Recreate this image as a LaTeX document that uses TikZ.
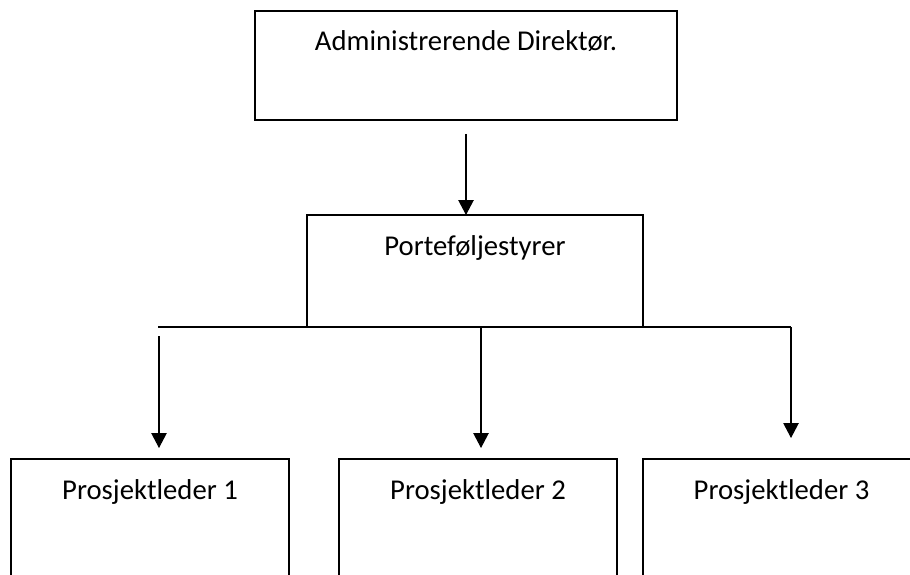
\documentclass[tikz,border=0pt]{standalone}
\usepackage{fontspec}
\setmainfont{Carlito}
\usetikzlibrary{arrows.meta}

\tikzset{
  orgbox/.style={draw, line width=1.6pt, inner sep=0pt, outer sep=0pt,
    anchor=north west, text height=40pt, font=\fontsize{28.7}{34}\selectfont},
  conn/.style={line width=1.1pt},
  arr/.style={conn, -{Triangle[width=15.5pt,length=15pt]}}
}

\begin{document}
\begin{tikzpicture}[x=1pt, y=-1pt]
  \useasboundingbox (0,0) rectangle (910,575);
  \clip (0,0) rectangle (910,575);

  % boxes (text baseline sits 40pt below each top edge)
  \node[orgbox, minimum width=422pt, minimum height=109pt, text depth=69pt]
    (ceo) at (255,11) {Administrerende Direktør.};
  \node[orgbox, minimum width=336pt, minimum height=112pt, text depth=72pt]
    (pm) at (307,215) {Porteføljestyrer};
  \node[orgbox, minimum width=278pt, minimum height=140pt, text depth=100pt]
    (pl1) at (11,459) {Prosjektleder 1};
  \node[orgbox, minimum width=278pt, minimum height=140pt, text depth=100pt]
    (pl2) at (339,459) {Prosjektleder 2};
  \node[orgbox, minimum width=277pt, minimum height=140pt, text depth=100pt]
    (pl3) at (643,459) {Prosjektleder 3};

  % bus and arrow end points
  \coordinate (busL) at (158,327);
  \coordinate (busR) at (791,327);
  \coordinate (busM) at (481,327);
  \coordinate (s1) at (159,336);
  \coordinate (t1) at (159,448);
  \coordinate (t2) at (481,448);
  \coordinate (t3) at (791,438);

  % director to portfolio manager
  \draw[arr] ([yshift=-14pt]ceo.south) -- (ceo.south |- pm.north);

  % distribution bus
  \draw[conn] (busL) -- (busR);
  \draw[arr] (busR) -- (t3);
  \draw[arr] (busM) -- (t2);
  \draw[arr] (s1) -- (t1);
\end{tikzpicture}
\end{document}
